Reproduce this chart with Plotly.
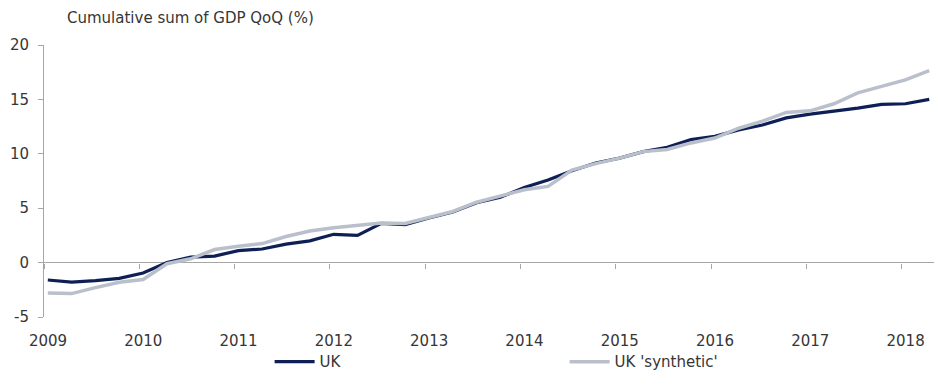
import plotly.graph_objects as go

quarters = [f"{y}Q{q}" for y in range(2009, 2019) for q in range(1, 5)][:38]

uk = [-1.6, -1.8, -1.65, -1.45, -0.95, 0.0, 0.5, 0.6, 1.1, 1.25,
      1.7, 2.0, 2.6, 2.5, 3.6, 3.5, 4.1, 4.65, 5.5, 6.0,
      6.9, 7.6, 8.45, 9.15, 9.6, 10.2, 10.6, 11.3, 11.6, 12.2,
      12.65, 13.3, 13.65, 13.9, 14.2, 14.55, 14.6, 15.0]

uk_synthetic = [-2.8, -2.85, -2.3, -1.8, -1.55, -0.1, 0.35, 1.2, 1.5, 1.75,
                2.4, 2.9, 3.2, 3.4, 3.65, 3.6, 4.15, 4.7, 5.55, 6.15,
                6.7, 7.0, 8.5, 9.1, 9.6, 10.2, 10.4, 11.0, 11.45, 12.35,
                13.0, 13.8, 13.95, 14.6, 15.6, 16.2, 16.8, 17.65]

year_ticks = list(range(2009, 2019))
y_ticks = [-5, 0, 5, 10, 15, 20]
y_labels = ["-5", "0", "5", "10", "15", "20"]

# position each quarter on a fractional-year axis
x = [int(s[:4]) + (int(s[-1]) - 1) * 0.25 + 0.04 for s in quarters]

FONT = "DejaVu Sans"
TXT = "#363636"
AX = "#a6a6a6"

fig = go.Figure()
fig.add_trace(go.Scatter(x=x, y=uk, mode="lines", name="UK",
                         line=dict(color="#0d1f55", width=3.2)))
fig.add_trace(go.Scatter(x=x, y=uk_synthetic, mode="lines", name="UK 'synthetic'",
                         line=dict(color="#b9bfcb", width=3.5)))
# helper (invisible) trace so the zero-line tick axis is drawn
fig.add_trace(go.Scatter(x=[x[0]], y=[None], xaxis="x2", mode="lines",
                         showlegend=False, hoverinfo="skip"))

fig.update_layout(
    width=938, height=386,
    margin=dict(l=44, r=4, t=45, b=69, autoexpand=False),
    paper_bgcolor="white", plot_bgcolor="white",
    font=dict(family=FONT, size=15, color=TXT),
    showlegend=True,
    legend=dict(orientation="h", x=0.2535, xanchor="left", y=-0.165, yanchor="middle",
                font=dict(family=FONT, size=15, color=TXT),
                entrywidth=240, entrywidthmode="pixels", bgcolor="rgba(0,0,0,0)",
                itemwidth=40),
    xaxis=dict(range=[2009, 2018.34], tickvals=year_ticks,
               ticktext=[str(v) for v in year_ticks],
               showgrid=False, zeroline=False, showline=False,
               ticks="outside", ticklen=10, tickcolor="rgba(0,0,0,0)",
               ticklabelshift=4, automargin=False,
               tickfont=dict(family=FONT, size=15, color=TXT)),
    xaxis2=dict(range=[2009, 2018.34], tickvals=year_ticks, overlaying="x",
                matches="x", anchor="free", position=0.2, side="bottom",
                showgrid=False, zeroline=False, showline=False,
                ticks="outside", ticklen=5, tickcolor=AX, tickwidth=1,
                showticklabels=False, automargin=False),
    yaxis=dict(range=[-5, 20], tickvals=y_ticks, ticktext=y_labels, showgrid=False,
               zeroline=True, zerolinecolor=AX, zerolinewidth=1,
               showline=True, linecolor=AX, linewidth=1,
               ticks="outside", ticklen=5, tickcolor=AX,
               ticklabelstandoff=6, automargin=False,
               tickfont=dict(family=FONT, size=15, color=TXT)),
)

fig.add_annotation(text="Cumulative sum of GDP QoQ (%)", xref="paper", yref="paper",
                   x=0.0236, y=1.099, xanchor="left", yanchor="middle",
                   showarrow=False, font=dict(family=FONT, size=15, color=TXT))

fig.write_html("out.html", config={"displayModeBar": False},
               post_script="document.body.style.margin='0';document.body.style.overflow='hidden';")
